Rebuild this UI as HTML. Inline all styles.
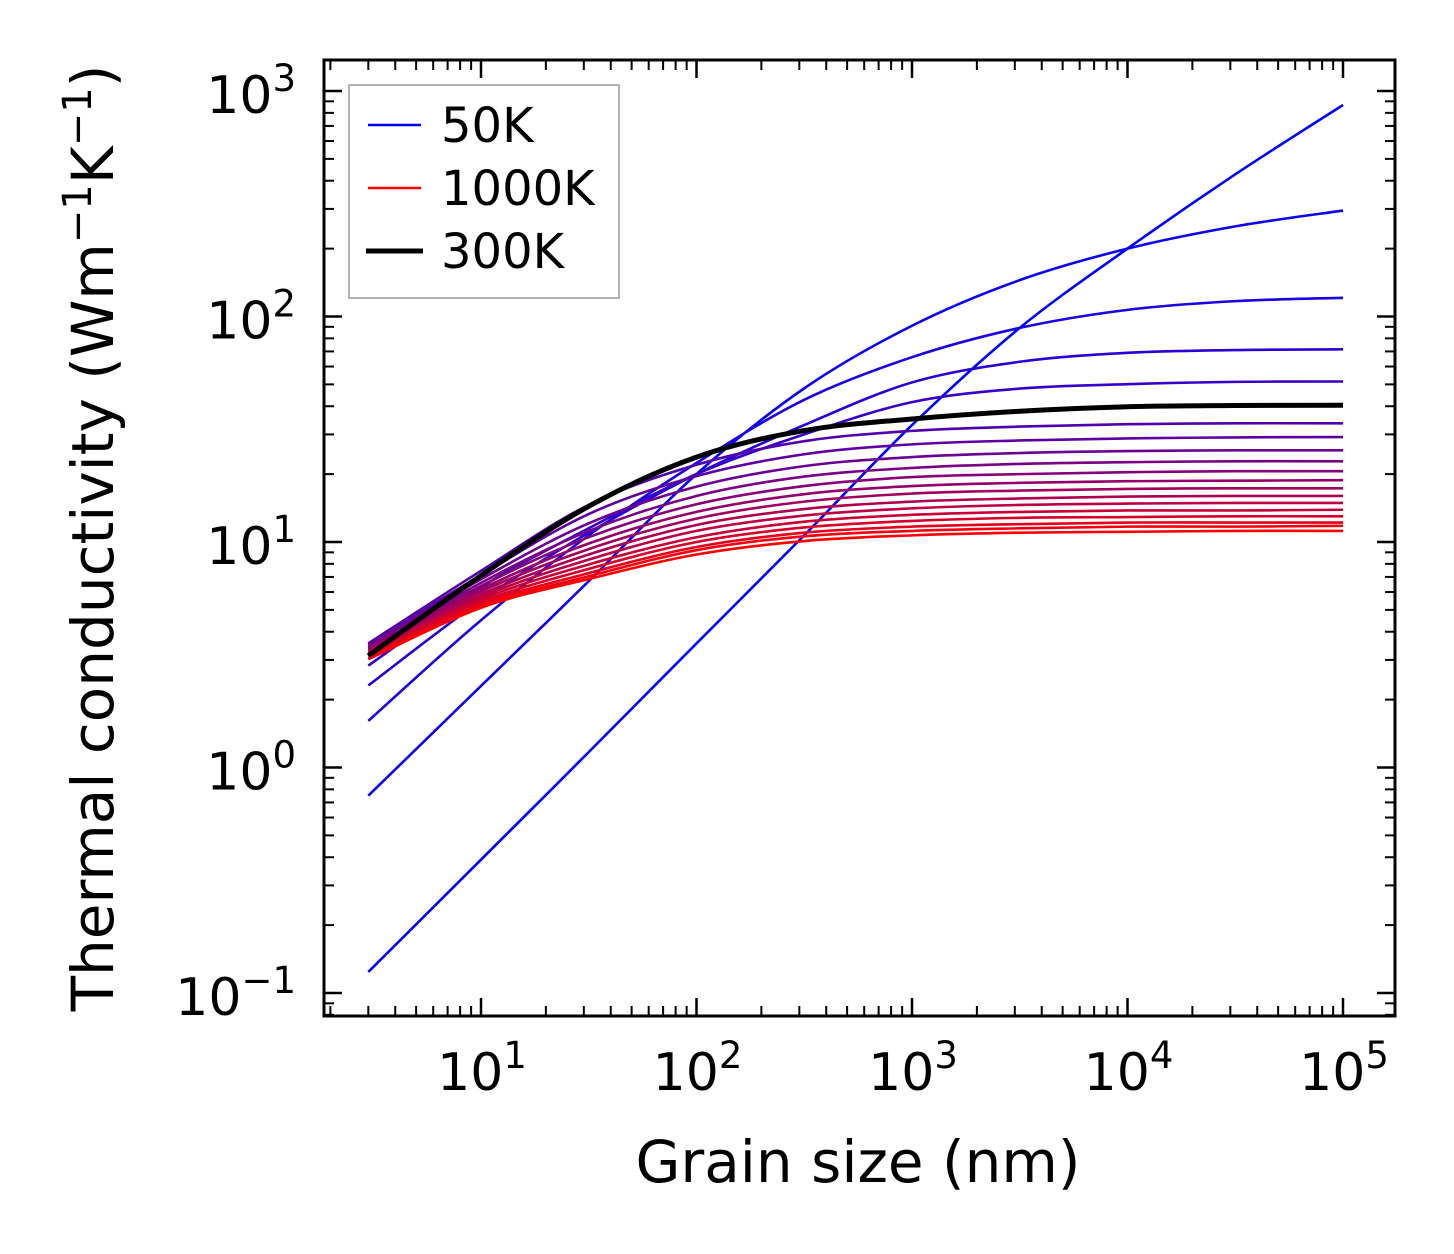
<!DOCTYPE html>
<html><head><meta charset="utf-8"><style>
html,body{margin:0;padding:0;background:#fff;}
svg{display:block;font-family:"DejaVu Sans","Liberation Sans",sans-serif;}
</style></head><body>
<svg id="chart" width="1454" height="1254" viewBox="0 0 1454 1254">
<rect x="0" y="0" width="1454" height="1254" fill="#fff"/>
<g id="curves"></g>
<g id="axes"></g>
<g id="legend">
  <rect x="349" y="85" width="270" height="213" fill="#fff" stroke="#999" stroke-width="1.5"/>
  <line x1="368" y1="125" x2="421" y2="125" stroke="#0000ff" stroke-width="2.5"/>
  <text x="441" y="142" font-size="48">50K</text>
  <line x1="368" y1="188" x2="421" y2="188" stroke="#ff0000" stroke-width="2.5"/>
  <text x="441" y="205" font-size="48">1000K</text>
  <line x1="366" y1="251" x2="423" y2="251" stroke="#000" stroke-width="5"/>
  <text x="441" y="268" font-size="48">300K</text>
</g>
<text x="858" y="1182" font-size="58" text-anchor="middle">Grain size (nm)</text>
<text transform="translate(113,538) rotate(-90)" font-size="58" text-anchor="middle">Thermal conductivity (Wm<tspan dy="-22" font-size="40">−1</tspan><tspan dy="22">K</tspan><tspan dy="-22" font-size="40">−1</tspan><tspan dy="22">)</tspan></text>
</svg>
<script>
const grainSizes = [3, 10, 31.6, 100, 316, 1000, 3162, 10000, 31623, 100000];
const temperatures = [50,100,150,200,250,300,350,400,450,500,550,600,650,700,750,800,850,900,950,1000];
const k50 = [0.124, 0.39, 1.17, 3.55, 10.7, 33, 89, 200, 427, 867];
const k100 = [0.75, 2.3, 6.7, 20, 48, 91, 145, 200, 251, 295];
const k150 = [1.61, 4.5, 10.7, 22.4, 42.7, 66, 89, 107, 117, 121];
const k200 = [2.31, 5.5, 11, 20, 33, 51, 63, 69, 71, 71.5];
const k250 = [2.83, 6.3, 11.5, 20, 30, 41.7, 47.9, 50.1, 51.3, 51.5];
const k300 = [3.13, 7.1, 14.4, 23.8, 31.2, 35.1, 38, 39.8, 40.3, 40.4];
const k350 = [3.55, 7.45, 14.6, 22.0, 28.0, 31.1, 32.5, 33.3, 33.6, 33.6];
const k400 = [3.51, 7.13, 13.3, 19.6, 24.5, 27.1, 28.2, 28.8, 29.1, 29.2];
const k450 = [3.46, 6.84, 12.1, 17.6, 21.7, 23.8, 24.8, 25.3, 25.5, 25.5];
const k500 = [3.42, 6.59, 11.2, 16.0, 19.5, 21.3, 22.2, 22.6, 22.8, 22.8];
const k550 = [3.37, 6.38, 10.5, 14.7, 17.7, 19.4, 20.0, 20.4, 20.6, 20.6];
const k600 = [3.33, 6.18, 9.85, 13.6, 16.3, 17.7, 18.3, 18.6, 18.7, 18.8];
const k650 = [3.30, 6.02, 9.30, 12.7, 15.1, 16.4, 16.9, 17.2, 17.3, 17.3];
const k700 = [3.25, 5.85, 8.80, 11.9, 14.0, 15.1, 15.6, 15.9, 16.0, 16.0];
const k750 = [3.21, 5.70, 8.35, 11.2, 13.1, 14.1, 14.6, 14.8, 14.9, 14.9];
const k800 = [3.18, 5.56, 7.95, 10.5, 12.3, 13.2, 13.6, 13.8, 13.8, 13.9];
const k850 = [3.13, 5.42, 7.60, 10.0, 11.6, 12.4, 12.8, 12.9, 13.0, 13.0];
const k900 = [3.10, 5.30, 7.28, 9.50, 11.0, 11.7, 12.0, 12.2, 12.2, 12.2];
const k950 = [3.05, 5.20, 7.05, 9.20, 10.6, 11.2, 11.5, 11.7, 11.7, 11.8];
const k1000 = [3.02, 5.11, 6.85, 8.80, 10.1, 10.7, 11.0, 11.1, 11.2, 11.2];
const series = [k50,k100,k150,k200,k250,k300,k350,k400,k450,k500,k550,k600,k650,k700,k750,k800,k850,k900,k950,k1000];
const highlightSeries = k300;
const xTickExps = [1, 2, 3, 4, 5];
const yTickExps = [-1, 0, 1, 2, 3];

const NS = "http://www.w3.org/2000/svg";
const L = 324, R = 1395, T = 60, B = 1016;
const xDec = 215.5, yDec = 225.5;
function xPos(v){ return 481 + (Math.log10(v) - 1) * xDec; }
function yPos(v){ return 993 - (Math.log10(v) + 1) * yDec; }
const xMin = Math.pow(10, 1 - (481 - L) / xDec), xMax = Math.pow(10, 1 + (R - 481) / xDec);
const yMin = Math.pow(10, -1 - (B - 993) / yDec), yMax = Math.pow(10, -1 + (993 - T) / yDec);

function pathFor(vals){
  const p = grainSizes.map((g,i)=>[xPos(g), yPos(vals[i])]);
  let d = "M" + p[0][0].toFixed(2) + "," + p[0][1].toFixed(2);
  for (let i=0;i<p.length-1;i++){
    const p0 = p[Math.max(0,i-1)], p1 = p[i], p2 = p[i+1], p3 = p[Math.min(p.length-1,i+2)];
    const c1 = [p1[0]+(p2[0]-p0[0])/6, p1[1]+(p2[1]-p0[1])/6];
    const c2 = [p2[0]-(p3[0]-p1[0])/6, p2[1]-(p3[1]-p1[1])/6];
    d += " C"+c1[0].toFixed(2)+","+c1[1].toFixed(2)+" "+c2[0].toFixed(2)+","+c2[1].toFixed(2)+" "+p2[0].toFixed(2)+","+p2[1].toFixed(2);
  }
  return d;
}
const cg = document.getElementById("curves");
series.forEach((vals, i) => {
  const t = i / (series.length - 1);
  const el = document.createElementNS(NS, "path");
  el.setAttribute("d", pathFor(vals));
  el.setAttribute("fill", "none");
  el.setAttribute("stroke", "rgb(" + Math.round(255*t) + ",0," + Math.round(255*(1-t)) + ")");
  el.setAttribute("stroke-width", "2.6");
  
  
  cg.appendChild(el);
});
const hl = document.createElementNS(NS, "path");
hl.setAttribute("d", pathFor(highlightSeries));
hl.setAttribute("fill", "none");
hl.setAttribute("stroke", "#000");
hl.setAttribute("stroke-width", "5");


cg.appendChild(hl);

const ag = document.getElementById("axes");
function line(x1,y1,x2,y2,w,name){
  const el = document.createElementNS(NS,"line");
  el.setAttribute("x1",x1);el.setAttribute("y1",y1);el.setAttribute("x2",x2);el.setAttribute("y2",y2);
  el.setAttribute("stroke","#000");el.setAttribute("stroke-width",w);
  
  
  ag.appendChild(el);
}
for (let e=0;e<=6;e++){
  for (let m=1;m<=9;m++){
    const v = m*Math.pow(10,e);
    if (v < xMin || v > xMax) continue;
    const x = xPos(v), len = m===1 ? 18 : 10, w = m===1 ? 2.5 : 2;
    line(x,B,x,B-len,w,"x-tick");
    line(x,T,x,T+len,w,"x-tick-top");
  }
}
for (let e=-2;e<=4;e++){
  for (let m=1;m<=9;m++){
    const v = m*Math.pow(10,e);
    if (v < yMin || v > yMax) continue;
    const y = yPos(v), len = m===1 ? 18 : 10, w = m===1 ? 2.5 : 2;
    line(L,y,L+len,y,w,"y-tick");
    line(R,y,R-len,y,w,"y-tick-right");
  }
}
const frame = document.createElementNS(NS,"rect");
frame.setAttribute("x",L);frame.setAttribute("y",T);frame.setAttribute("width",R-L);frame.setAttribute("height",B-T);
frame.setAttribute("fill","none");frame.setAttribute("stroke","#000");frame.setAttribute("stroke-width","3");


ag.appendChild(frame);

function tickLabel(x,y,exp,anchor,name){
  const t = document.createElementNS(NS,"text");
  t.setAttribute("x",x);t.setAttribute("y",y);t.setAttribute("font-size","52");t.setAttribute("text-anchor",anchor);
  
  
  const s = exp < 0 ? "\u2212" + Math.abs(exp) : String(exp);
  t.innerHTML = '10<tspan dy="-22" font-size="37">' + s + '</tspan>';
  ag.appendChild(t);
}
xTickExps.forEach(e => tickLabel(xPos(Math.pow(10,e)) + 1, 1090, e, "middle", "x-tick-label"));
yTickExps.forEach(e => tickLabel(296, yPos(Math.pow(10,e)) + 22, e, "end", "y-tick-label"));
</script>
</body></html>
